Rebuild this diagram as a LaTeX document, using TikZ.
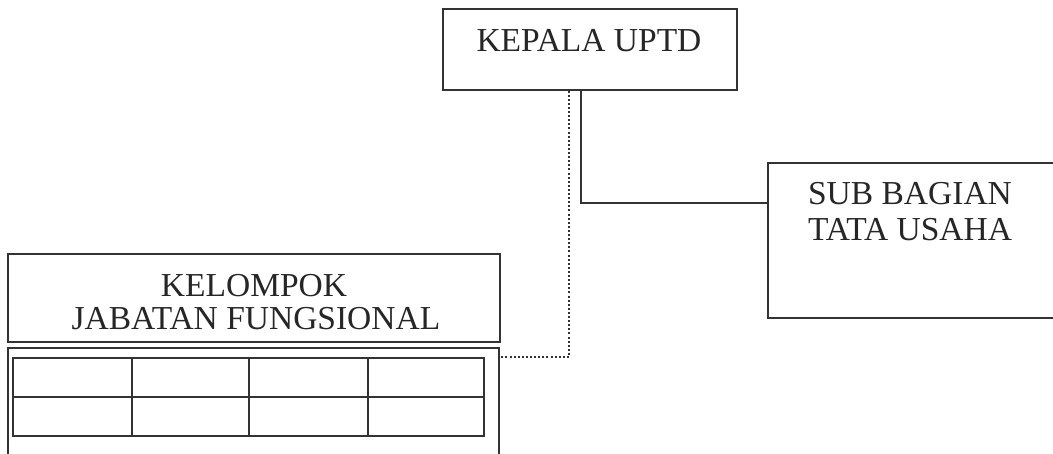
\documentclass[tikz,border=0pt]{standalone}
\usepackage{fontspec}
\setmainfont{Liberation Serif}
\begin{document}
\begin{tikzpicture}[x=1pt,y=-1pt,
  ln/.style={draw=black!80, line width=1.6pt},
  box/.style={ln, rectangle, inner sep=0pt, anchor=north west},
  lbl/.style={text=black!85, font=\fontsize{33.5}{33.5}\selectfont, align=center, inner sep=0pt},
  dotline/.style={draw=black!80, line width=2pt, dash pattern=on 2pt off 2.1pt}]
\useasboundingbox (0,0) rectangle (1053,454);
\clip (0,0) rectangle (1053,454);
\fill[white] (0,0) rectangle (1053,454);
% boxes
\node[box, minimum width=294pt, minimum height=81pt] (kepala) at (442,8) {};
\node[box, minimum width=296pt, minimum height=155pt] (sub) at (767,162) {};
\node[box, minimum width=492pt, minimum height=88pt] (kel) at (7,253) {};
\node[box, minimum width=491pt, minimum height=130pt] (lower) at (7,347) {};
% labels
\node[lbl, anchor=base] (tkepala) at (589,52) {KEPALA UPTD};
\node[lbl, anchor=base] (tsub1) at (910,205) {SUB BAGIAN};
\node[lbl, anchor=base] (tsub2) at (910,241) {TATA USAHA};
\node[lbl, anchor=base] (tkel1) at (254,297) {KELOMPOK};
\node[lbl, anchor=base] (tkel2) at (256,330) {JABATAN FUNGSIONAL};
% table inside lower box
\draw[ln, line width=1.3pt] (13,358) rectangle (484,436);
\draw[ln, line width=1.3pt] (13,397) -- (484,397);
\foreach \xx in {132,249,368} \draw[ln, line width=1.3pt] (\xx,358) -- (\xx,436);
% connectors
\coordinate (j1) at (581,203);
\coordinate (j2) at (569,357);
\draw[ln] (kepala.south -| j1) -- (j1) -- (sub.west |- j1);
\draw[dotline] (kepala.south -| j2) -- (j2) -- (lower.east |- j2);
\end{tikzpicture}
\end{document}
